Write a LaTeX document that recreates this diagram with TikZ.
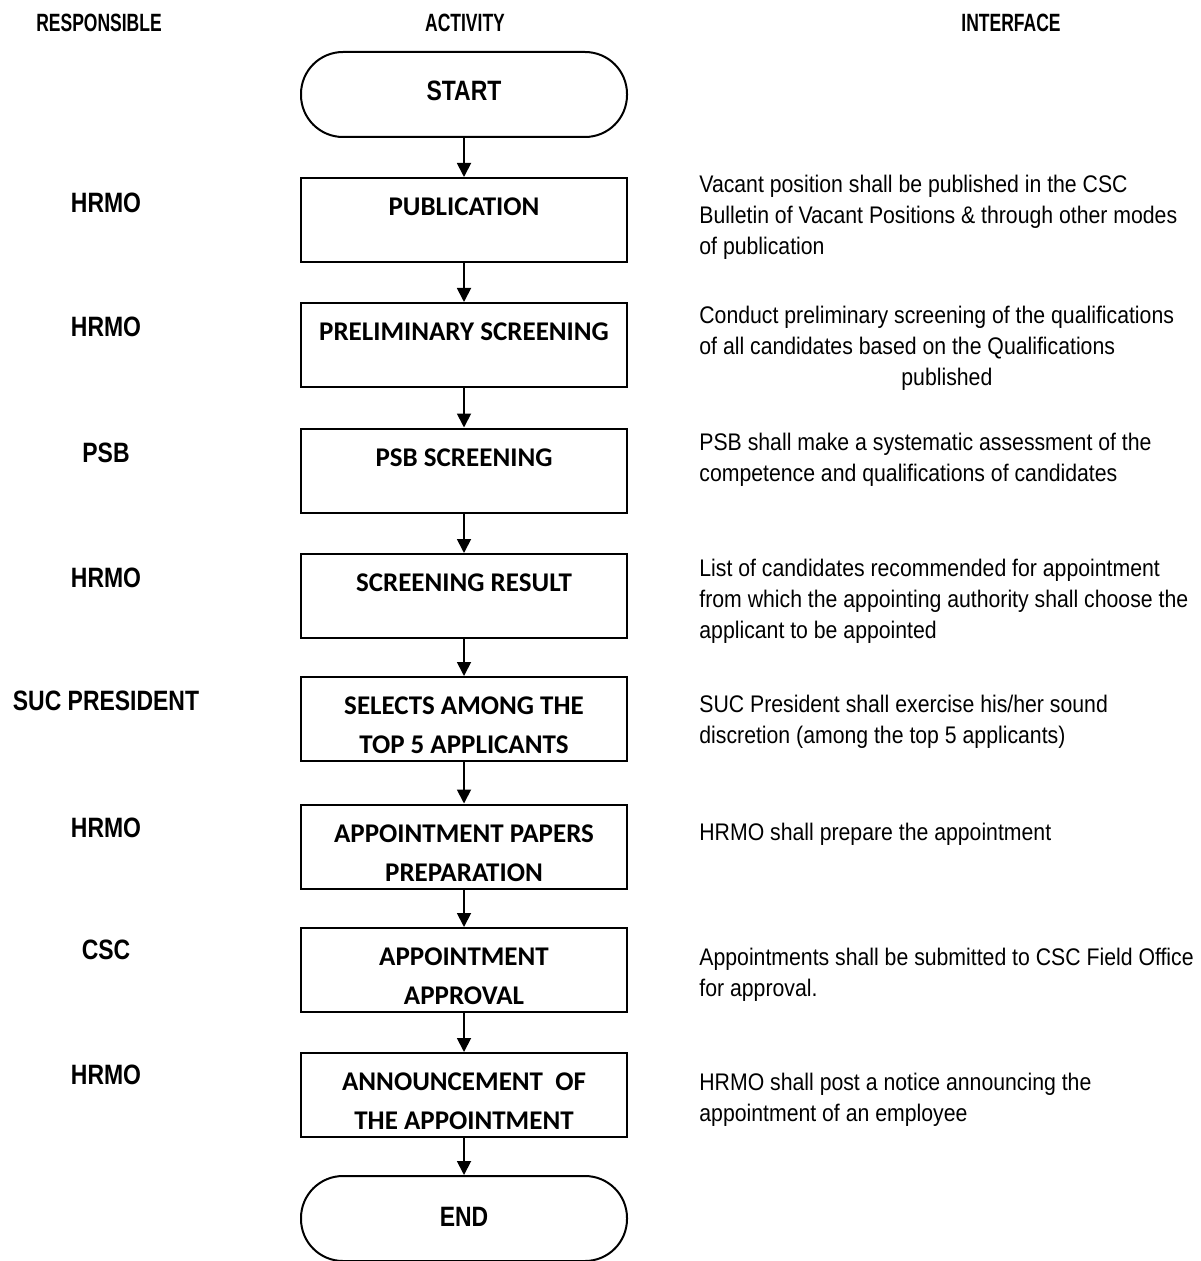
\documentclass[tikz,border=0pt]{standalone}
\usepackage{fontspec}
\setmainfont{Liberation Sans}
\newfontfamily\narrowfont[FakeStretch=0.82]{Liberation Sans}
\newfontfamily\notefont[FakeStretch=0.885]{Liberation Sans}
\newfontfamily\headfont[FakeStretch=0.7]{Liberation Sans}
\newfontfamily\boxfont{Carlito}
\usetikzlibrary{arrows.meta}

% text block of an activity box: lines start near the top of the box
\newcommand\boxtext[1]{\parbox[c][42pt][t]{160pt}{\centering\vspace*{5.1pt}\strut#1}}

\begin{document}
\begin{tikzpicture}[x=0.5pt,y=-0.5pt,
  head/.style={font=\headfont\bfseries\fontsize{12.5}{14}\selectfont, inner sep=0},
  role/.style={font=\narrowfont\bfseries\fontsize{14}{16}\selectfont, inner sep=0},
  % notes are placed by the baseline of their last line
  note/.style={font=\notefont\fontsize{12}{15.5}\selectfont, align=left, anchor=base west, inner sep=0},
  stepbox/.style={draw, line width=1pt, minimum width=163pt, minimum height=42pt, inner sep=0,
    font=\boxfont\bfseries\fontsize{13.5}{19.5}\selectfont},
  terminal/.style={draw, line width=1pt, rounded corners=21pt, minimum width=163pt, minimum height=42.5pt,
    inner sep=0, font=\narrowfont\bfseries\fontsize{14}{16}\selectfont},
  flow/.style={-{Triangle[length=7pt,width=7pt]}, line width=0.9pt}]

\useasboundingbox (0,0) rectangle (1200,1261);

% column headings
\node[head] (hresp) at (99,23) {RESPONSIBLE};
\node[head] (hact)  at (465,23) {ACTIVITY};
\node[head] (hint)  at (1011,23) {INTERFACE};

% activity column
\node[terminal] (start) at (464,94.5) {\raisebox{4pt}{START}};
\node[stepbox] (p1) at (464,220)   {\boxtext{PUBLICATION}};
\node[stepbox] (p2) at (464,345)   {\boxtext{PRELIMINARY SCREENING}};
\node[stepbox] (p3) at (464,470.5) {\boxtext{PSB SCREENING}};
\node[stepbox] (p4) at (464,596)   {\boxtext{SCREENING RESULT}};
\node[stepbox] (p5) at (464,719)   {\boxtext{SELECTS AMONG THE\\TOP 5 APPLICANTS}};
\node[stepbox] (p6) at (464,846.5) {\boxtext{APPOINTMENT PAPERS\\PREPARATION}};
\node[stepbox] (p7) at (464,970)   {\boxtext{APPOINTMENT\\APPROVAL}};
\node[stepbox] (p8) at (464,1095)  {\boxtext{ANNOUNCEMENT\ \ OF\\THE APPOINTMENT}};
\node[terminal] (finish) at (464,1218.5) {\raisebox{1.5pt}{END}};

\draw[flow] (start) -- (p1);
\draw[flow] (p1) -- (p2);
\draw[flow] (p2) -- (p3);
\draw[flow] (p3) -- (p4);
\draw[flow] (p4) -- (p5);
\draw[flow] (p5) -- (p6);
\draw[flow] (p6) -- (p7);
\draw[flow] (p7) -- (p8);
\draw[flow] (p8) -- (finish);

% responsible column
\node[role] (r1) at (106,203) {HRMO};
\node[role] (r2) at (106,327) {HRMO};
\node[role] (r3) at (106,453) {PSB};
\node[role] (r4) at (106,578) {HRMO};
\node[role] (r5) at (106,701) {SUC PRESIDENT};
\node[role] (r6) at (106,828) {HRMO};
\node[role] (r7) at (106,950) {CSC};
\node[role] (r8) at (106,1075) {HRMO};

% interface column
\node[note] (i1) at (699,255) {Vacant position shall be published in the CSC\\Bulletin of Vacant Positions \& through other modes\\of publication};
\node[note] (i2) at (699,386) {Conduct preliminary screening of the qualifications\\of all candidates based on the Qualifications\\\hspace*{101pt}published};
\node[note] (i3) at (699,481) {PSB shall make a systematic assessment of the\\competence and qualifications of candidates};
\node[note] (i4) at (699,638) {List of candidates recommended for appointment\\from which the appointing authority shall choose the\\applicant to be appointed};
\node[note] (i5) at (699,743) {SUC President shall exercise his/her sound\\discretion (among the top 5 applicants)};
\node[note] (i6) at (699,840) {HRMO shall prepare the appointment};
\node[note] (i7) at (699,996) {Appointments shall be submitted to CSC Field Office\\for approval.};
\node[note] (i8) at (699,1121) {HRMO shall post a notice announcing the\\appointment of an employee};
\end{tikzpicture}
\end{document}
